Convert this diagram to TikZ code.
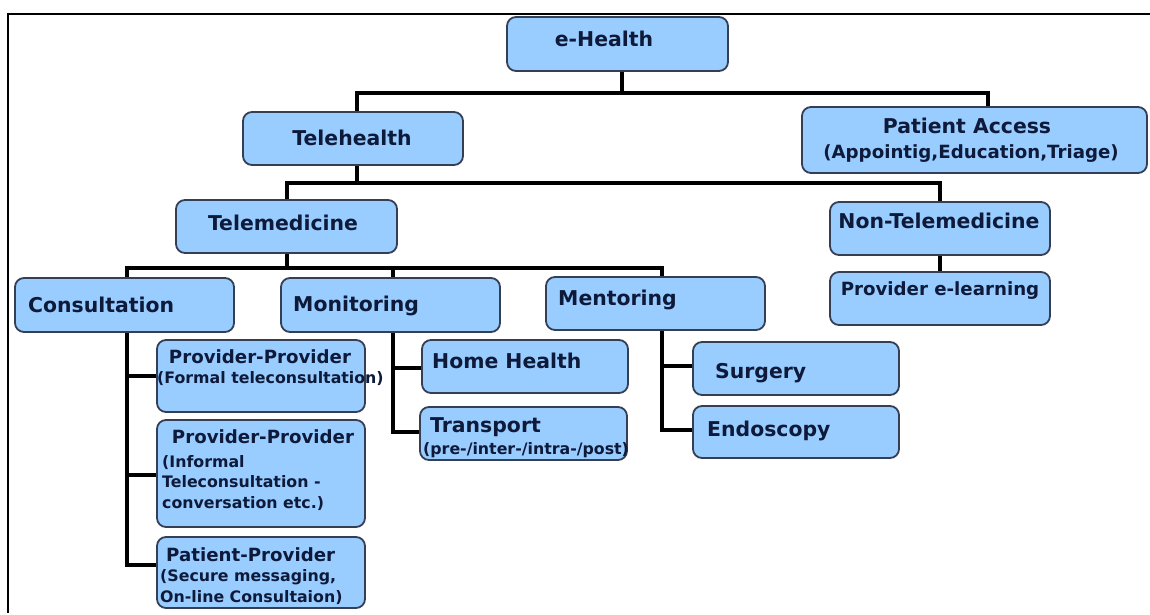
\documentclass[tikz,border=0pt]{standalone}
\usepackage{fontspec}
\setmainfont{DejaVu Sans}
\usetikzlibrary{fit}
\definecolor{boxfill}{RGB}{153,204,255}
\definecolor{boxedge}{RGB}{52,62,84}
\definecolor{ink}{RGB}{14,26,58}
\begin{document}
\begin{tikzpicture}[x=1pt,y=-1pt,
  box/.style={draw=boxedge, fill=boxfill, line width=1.8pt, rounded corners=9pt, inner sep=0pt},
  conn/.style={draw=black, line width=4.8pt},
  lbl/.style={inner sep=0pt, text=ink, font=\bfseries\fontsize{20.4}{24}\selectfont},
  mid/.style={inner sep=0pt, text=ink, font=\bfseries\fontsize{18.2}{22}\selectfont},
  sub/.style={inner sep=0pt, text=ink, font=\bfseries\fontsize{15.8}{19}\selectfont},
  frame/.style={line width=1.4pt}]
\useasboundingbox (0,0) rectangle (1150,615);

% outer frame (top and left edges)
\draw[frame] (1150,14) -- (8,14) -- (8,613);

% boxes
\node[box, fit={(507,17) (728,71)}] (eh) {};
\node[box, fit={(243,112) (463,165)}] (th) {};
\node[box, fit={(802,107) (1147,173)}] (pa) {};
\node[box, fit={(176,200) (397,253)}] (tm) {};
\node[box, fit={(830,202) (1050,255)}] (ntm) {};
\node[box, fit={(830,272) (1050,325)}] (pel) {};
\node[box, fit={(15,278) (234,332)}] (cons) {};
\node[box, fit={(281,278) (500,332)}] (mon) {};
\node[box, fit={(546,277) (765,330)}] (men) {};
\node[box, fit={(157,340) (365,412)}] (pp1) {};
\node[box, fit={(157,420) (365,527)}] (pp2) {};
\node[box, fit={(157,537) (365,608)}] (patp) {};
\node[box, fit={(422,340) (628,393)}] (hh) {};
\node[box, fit={(420,407) (627,460)}] (tr) {};
\node[box, fit={(693,342) (899,395)}] (sur) {};
\node[box, fit={(693,406) (899,458)}] (endo) {};

% bus junctions
\coordinate (a0) at (622,93);
\coordinate (a1) at (357,93);
\coordinate (a2) at (988,93);
\coordinate (b0) at (357,183);
\coordinate (b1) at (287,183);
\coordinate (b2) at (940,183);
\coordinate (c0) at (287,268);
\coordinate (c1) at (127,268);
\coordinate (c2) at (393,268);
\coordinate (c3) at (662,268);
\coordinate (d0) at (127,376);
\coordinate (d1) at (127,475);
\coordinate (d2) at (127,565);
\coordinate (e0) at (393,368);
\coordinate (e1) at (393,432);
\coordinate (f0) at (662,366);
\coordinate (f1) at (662,430);

% connectors
\draw[conn] (a0 |- eh.south) -- (a0);
\draw[conn] (a1 |- th.north) -- (a1) -- (a2) -- (a2 |- pa.north);
\draw[conn] (b0 |- th.south) -- (b0);
\draw[conn] (b1 |- tm.north) -- (b1) -- (b2) -- (b2 |- ntm.north);
\draw[conn] (ntm.south) -- (pel.north);
\draw[conn] (c0 |- tm.south) -- (c0);
\draw[conn] (c1 |- cons.north) -- (c1) -- (c3) -- (c3 |- men.north);
\draw[conn] (c2) -- (c2 |- mon.north);
\draw[conn] (d0 |- cons.south) -- (d2) -- (d2 -| patp.west);
\draw[conn] (d0) -- (d0 -| pp1.west);
\draw[conn] (d1) -- (d1 -| pp2.west);
\draw[conn] (e0 |- mon.south) -- (e1) -- (e1 -| tr.west);
\draw[conn] (e0) -- (e0 -| hh.west);
\draw[conn] (f0 |- men.south) -- (f1) -- (f1 -| endo.west);
\draw[conn] (f0) -- (f0 -| sur.west);

% labels
\node[lbl, anchor=base] (teh) at (604,47) {e-Health};
\node[lbl, anchor=base] (tth) at (352,145) {Telehealth};
\node[lbl, anchor=base] (tpa) at (967,133) {Patient Access};
\node[mid, anchor=base] (tpa2) at (971,158) {(Appointig,Education,Triage)};
\node[lbl, anchor=base] (ttm) at (283,230) {Telemedicine};
\node[lbl, anchor=base] (tntm) at (939,228) {Non-Telemedicine};
\node[mid, anchor=base] (tpel) at (940,295) {Provider e-learning};
\node[lbl, anchor=base west] (tcons) at (28,312) {Consultation};
\node[lbl, anchor=base west] (tmon) at (293,311) {Monitoring};
\node[lbl, anchor=base west] (tmen) at (558,305) {Mentoring};
\node[mid, anchor=base] (tpp1) at (260,363) {Provider-Provider};
\node[sub, anchor=base west] (tpp1b) at (157,383) {(Formal teleconsultation)};
\node[mid, anchor=base] (tpp2) at (263,443) {Provider-Provider};
\node[sub, anchor=base west] (tpp2b) at (162,467) {(Informal};
\node[sub, anchor=base west] (tpp2c) at (162,487) {Teleconsultation -};
\node[sub, anchor=base west] (tpp2d) at (162,508) {conversation etc.)};
\node[mid, anchor=base west] (tpatp) at (166,561) {Patient-Provider};
\node[sub, anchor=base west] (tpatpb) at (160,581) {(Secure messaging,};
\node[sub, anchor=base west] (tpatpc) at (160,602) {On-line Consultaion)};
\node[lbl, anchor=base west] (thh) at (432,368) {Home Health};
\node[lbl, anchor=base west] (ttr) at (430,432) {Transport};
\node[sub, anchor=base west] (ttrb) at (423,454) {(pre-/inter-/intra-/post)};
\node[lbl, anchor=base west] (tsur) at (715,378) {Surgery};
\node[lbl, anchor=base west] (tendo) at (707,436) {Endoscopy};
\end{tikzpicture}
\end{document}
